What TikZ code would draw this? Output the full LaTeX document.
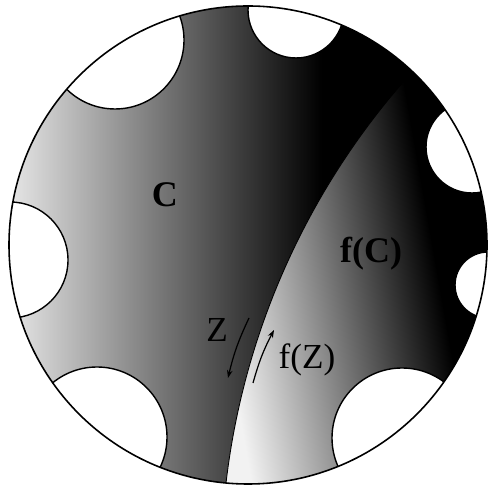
\documentclass[tikz,border=0pt]{standalone}
\usepackage{fontspec}
\setmainfont{Liberation Serif}
\usepackage{tikz}
\usetikzlibrary{arrows.meta}
\tikzset{
  rimline/.style  = {draw=black, line width=0.9pt},
  holefill/.style = {fill=white, draw=black, line width=0.8pt},
  cutline/.style  = {draw=black, line width=0.5pt},
  bigtag/.style   = {font=\fontsize{20.5}{22}\selectfont\bfseries},
  smalltag/.style = {font=\fontsize{20}{22}\selectfont},
  flowarrow/.style= {->, line width=0.7pt},
  >={Stealth[length=4.5pt, width=3.2pt]}
}

\begin{document}
\begin{tikzpicture}[x=0.02cm, y=0.02cm]
  \useasboundingbox (0,0) rectangle (488,489);
  \coordinate (mid) at (248,244);
  \coordinate (bend) at (963,-80);

  \begin{scope}
    \clip (mid) circle[radius=239];
    % region C
    \fill[black] (300,0) rectangle (488,489);
    \shade[left color=black!7, right color=black] (0,0) rectangle (322,489);

    % region f(C)
    \begin{scope}
      \clip (bend) ++(135:742) arc[start angle=135, end angle=176, radius=742]
        -- (223,-80) -- (700,-80) -- (700,700) -- (438,700) -- cycle;
      \begin{scope}[transform canvas={rotate around={10:(340,135)}}]
        \fill[black!5] (-100,-300) rectangle (250,700);
        \fill[black] (430,-300) rectangle (800,700);
        \shade[left color=black!5, right color=black] (230,-300) rectangle (450,700);
      \end{scope}
    \end{scope}
    \draw[cutline] (bend) ++(135:742) arc[start angle=135, end angle=176, radius=742];

    % holes on the rim
    \foreach \cx/\cy/\r in {115/449/69, 296/479/48, 472/342/46, 488/204/33,
                            402/51/70, 97/52/70, 10/229/58}
      \draw[holefill] (\cx,\cy) circle[radius=\r];
  \end{scope}
  \draw[rimline] (mid) circle[radius=239];

  % labels
  \node[bigtag] (lblC) at (165,294) {C};
  \node[bigtag] (lblfC) at (371,235) {f(C)};
  \node[smalltag] (lblZ) at (217,159) {Z};
  \node[smalltag] (lblfZ) at (307,129) {f(Z)};

  % arrows along the cut
  \coordinate (z0) at (249,171);
  \coordinate (z1) at (228,111);
  \coordinate (w0) at (253,106);
  \coordinate (w1) at (274,159);
  \draw[flowarrow] (z0) to[bend right=6] (z1);
  \draw[flowarrow] (w0) to[bend left=6] (w1);
\end{tikzpicture}
\end{document}
